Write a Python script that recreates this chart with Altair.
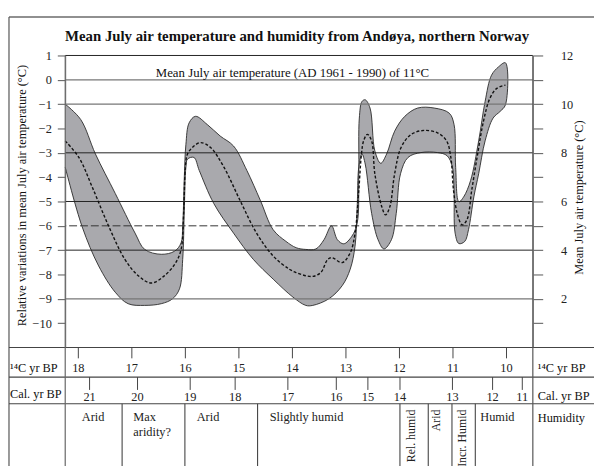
import altair as alt
import pandas as pd

FONT = "Liberation Serif"

# ---- data (x: 14C kyr BP, y: relative variation in mean July temperature, degC)
upper_x = [18.245, 17.956, 17.68, 17.31, 16.94, 16.76, 16.45, 16.2, 16.08, 16.05, 16.02, 15.99,
           15.93, 15.81, 15.59, 15.35, 15.1, 14.85, 14.6, 14.36, 14.12, 13.93, 13.75, 13.56,
           13.41, 13.27, 13.16, 13.04, 12.89, 12.79, 12.76, 12.75, 12.70, 12.64, 12.55, 12.46,
           12.35, 12.24, 12.09, 11.9, 11.66, 11.35, 11.07, 10.98, 10.95, 10.89, 10.80, 10.67,
           10.52, 10.40, 10.28, 10.15, 10.02]
upper_y = [-1.0, -1.63, -3.05, -4.67, -6.3, -6.97, -7.17, -7.04, -6.7, -6.03, -4.0, -2.65,
           -1.77, -1.5, -1.84, -2.31, -2.72, -3.73, -4.95, -6.16, -6.64, -6.9, -6.97, -6.95,
           -6.57, -6.0, -6.57, -6.74, -6.43, -5.89, -3.86, -1.57, -0.89, -0.82, -1.16, -2.92,
           -3.43, -3.05, -2.11, -1.5, -1.16, -1.16, -1.37, -1.84, -3.6, -5.01, -4.81, -4.13,
           -2.51, -0.89, 0.19, 0.53, 0.7]

lower_x = [18.245, 17.93, 17.62, 17.31, 17.07, 16.76, 16.45, 16.24, 16.11, 16.05, 16.02, 15.99,
           15.96, 15.84, 15.74, 15.47, 15.1, 14.73, 14.36, 13.99, 13.75, 13.62, 13.32, 13.07,
           12.92, 12.83, 12.79, 12.76, 12.70, 12.64, 12.52, 12.40, 12.29, 12.15, 12.06, 11.98,
           11.84, 11.6, 11.29, 11.11, 11.01, 10.98, 10.96, 10.89, 10.78, 10.71, 10.61, 10.52,
           10.40, 10.25, 10.12, 10.02]
lower_y = [-3.59, -6.03, -7.65, -8.73, -9.2, -9.27, -9.2, -9.0, -8.59, -7.38, -5.35, -3.59,
           -3.26, -3.19, -3.73, -5.08, -6.3, -7.38, -8.19, -8.93, -9.27, -9.27, -9.0, -8.46,
           -7.78, -6.84, -5.22, -3.59, -3.05, -3.46, -5.49, -6.57, -6.95, -6.57, -5.49, -3.86,
           -3.19, -2.99, -2.99, -3.12, -3.59, -4.54, -6.3, -6.73, -6.64, -6.16, -4.81, -3.86,
           -2.51, -1.57, -1.3, -1.03]

mid_x = [18.245, 17.99, 17.74, 17.43, 17.13, 16.88, 16.64, 16.39, 16.18, 16.08, 16.03, 16.0,
         15.96, 15.84, 15.71, 15.53, 15.28, 14.98, 14.67, 14.36, 14.06, 13.93, 13.75, 13.62,
         13.47, 13.34, 13.26, 13.07, 12.92, 12.83, 12.76, 12.71, 12.67, 12.60, 12.52, 12.46,
         12.33, 12.26, 12.18, 12.09, 11.97, 11.78, 11.54, 11.29, 11.12, 11.04, 10.99, 10.92,
         10.83, 10.74, 10.65, 10.55, 10.43, 10.31, 10.18, 10.02]
mid_y = [-2.51, -3.19, -4.41, -6.03, -7.38, -8.05, -8.35, -8.05, -7.51, -6.97, -5.35, -3.59,
         -3.05, -2.72, -2.58, -2.78, -3.59, -4.95, -6.3, -7.24, -7.78, -7.92, -8.05, -8.08,
         -7.92, -7.38, -7.31, -7.51, -7.11, -6.3, -4.54, -3.05, -2.51, -2.24, -2.51, -3.86,
         -5.22, -5.55, -5.22, -3.86, -2.78, -2.24, -2.08, -2.18, -2.51, -3.19, -4.54, -5.49,
         -5.96, -5.76, -4.54, -3.19, -1.70, -0.76, -0.35, -0.22]

dark_lines = [1, -3, -5, -7]
gray_lines = [0, -1, -9]
dashed_lines = [-6]
left_ticks = list(range(-10, 2))
right_ticks = list(range(1, 13))
c14_ticks = [18, 17, 16, 15, 14, 13, 12, 11, 10]

cal_labels = ["21", "20", "19", "18", "17", "16", "15", "14", "13", "12", "11"]
cal_pos = [17.79, 16.894, 15.91, 15.07, 14.085, 13.18, 12.59, 11.99, 11.01, 10.26, 9.705]

hum_dividers = [17.182, 16.009, 14.651, 11.991, 11.462, 11.019, 10.583]
hum_labels = ["Arid", "Max\naridity?", "Arid", "Slightly humid", "Humid"]
hum_pos = [17.935, 16.973, 15.788, 14.424, 10.49]
hum_vlabels = ["Rel. humid", "Arid", "Incr. Humid"]
hum_vpos = [11.781, 11.32, 10.835]

XDOM = [9.508, 18.245]
xs = alt.Scale(domain=XDOM, reverse=True, nice=False, zero=False)
ys = alt.Scale(domain=[-11, 1], nice=False, zero=False)

poly = pd.DataFrame({
    "x": upper_x + lower_x[::-1],
    "y": upper_y + lower_y[::-1],
    "i": list(range(len(upper_x) + len(lower_x))),
})
mid = pd.DataFrame({"x": mid_x, "y": mid_y, "i": list(range(len(mid_x)))})
one = pd.DataFrame({"a": [0]})

band = alt.Chart(poly).mark_line(
    fill="#a9a9ad", stroke="#2a2a2a", strokeWidth=0.9, interpolate="catmull-rom"
).encode(
    x=alt.X("x:Q", scale=xs, axis=None),
    y=alt.Y("y:Q", scale=ys, axis=None),
    order=alt.Order("i:Q"),
)

left_layer = alt.Chart(pd.DataFrame({"t": left_ticks})).mark_point(opacity=0).encode(
    y=alt.Y("t:Q", scale=ys, axis=alt.Axis(
        values=left_ticks, orient="left", title="", grid=False, tickSize=8,
        tickColor="#555", domainColor="#777", labelFont=FONT, labelFontSize=12.5,
        labelColor="#222", labelPadding=6)),
)
right_layer = alt.Chart(pd.DataFrame({"r": [0, 12]})).mark_point(opacity=0).encode(
    y=alt.Y("r:Q", scale=alt.Scale(domain=[0, 12], nice=False, zero=False),
            axis=alt.Axis(orient="right", values=right_ticks, title="", grid=False,
                          tickSize=10, tickColor="#555", domainColor="#777",
                          labelFont=FONT, labelFontSize=12.5, labelColor="#222",
                          labelPadding=18,
                          labelExpr="datum.value % 2 == 0 ? datum.label : ''")),
)

def yrules(vals, color, width, dash=None):
    kw = dict(color=color, strokeWidth=width)
    if dash:
        kw["strokeDash"] = dash
    return alt.Chart(pd.DataFrame({"y": vals})).mark_rule(**kw).encode(
        y=alt.Y("y:Q", scale=ys, axis=None))

grid_dark = yrules(dark_lines, "#222", 1.0)
grid_gray = yrules(gray_lines, "#777", 1.3)
grid_dash = yrules(dashed_lines, "#333", 1.0, [8, 3])

midline = alt.Chart(mid).mark_line(
    color="#111", strokeWidth=1.4, strokeDash=[3, 2], interpolate="catmull-rom"
).encode(
    x=alt.X("x:Q", scale=xs, axis=None),
    y=alt.Y("y:Q", scale=ys, axis=None),
    order=alt.Order("i:Q"),
)

def txt(text, x, y, size=12.5, align="left", angle=0, weight="normal"):
    return alt.Chart(one).mark_text(
        text=text, align=align, baseline="middle", font=FONT, fontSize=size,
        angle=angle, fontWeight=weight, color="#111"
    ).encode(x=alt.value(x), y=alt.value(y))

def seg(x1, x2, y1, y2, color="#333", w=1.0):
    return alt.Chart(one).mark_rule(color=color, strokeWidth=w).encode(
        x=alt.value(x1), x2=alt.value(x2), y=alt.value(y1), y2=alt.value(y2))

annot = alt.Chart(pd.DataFrame({"x": [14.0], "y": [0]})).mark_text(
    text="Mean July air temperature (AD 1961 - 1990) of 11°C", align="center",
    baseline="alphabetic", dy=-3, font=FONT, fontSize=13, color="#111"
).encode(x=alt.X("x:Q", scale=xs, axis=None), y=alt.Y("y:Q", scale=ys, axis=None))

frame = [
    seg(-57, 540, -39, -39, "#222", 1.2),
    seg(-57, -57, -39, 430, "#555", 1.2),
    seg(-57, 540, 296, 296, "#444", 1.2),
    seg(-57, 540, 326, 326, "#444", 1.2),
    seg(-57, 540, 353, 353, "#444", 1.2),
    seg(0, 0, 0, 430, "#666", 1.2),
    seg(474, 474, 0, 430, "#555", 1.2),
]

c14_df = pd.DataFrame({"x": c14_ticks, "lab": [str(v) for v in c14_ticks]})
c14_tick_marks = alt.Chart(c14_df).mark_rule(color="#444", strokeWidth=1).encode(
    x=alt.X("x:Q", scale=xs, axis=None), y=alt.value(296), y2=alt.value(307))
c14_text = alt.Chart(c14_df).mark_text(
    font=FONT, fontSize=12.5, color="#222", baseline="middle", align="center"
).encode(x=alt.X("x:Q", scale=xs, axis=None), y=alt.value(317), text="lab:N")

cal_df = pd.DataFrame({"x": cal_pos, "lab": cal_labels})
cal_ticks = alt.Chart(cal_df).mark_rule(color="#444", strokeWidth=1).encode(
    x=alt.X("x:Q", scale=xs, axis=None), y=alt.value(326), y2=alt.value(339))
cal_text = alt.Chart(cal_df).mark_text(
    font=FONT, fontSize=12.5, color="#222", baseline="middle", align="center"
).encode(x=alt.X("x:Q", scale=xs, axis=None), y=alt.value(346), text="lab:N")

div_df = pd.DataFrame({"x": hum_dividers})
hum_div = alt.Chart(div_df).mark_rule(color="#444", strokeWidth=1.1).encode(
    x=alt.X("x:Q", scale=xs, axis=None), y=alt.value(353), y2=alt.value(430))

hum_df = pd.DataFrame({"x": hum_pos, "lab": hum_labels})
hum_text = alt.Chart(hum_df).mark_text(
    font=FONT, fontSize=12.5, color="#222", baseline="top", align="left",
    lineBreak="\n", lineHeight=15
).encode(x=alt.X("x:Q", scale=xs, axis=None), y=alt.value(361), text="lab:N")

humv_df = pd.DataFrame({"x": hum_vpos, "lab": hum_vlabels})
humv_text = alt.Chart(humv_df).mark_text(
    font=FONT, fontSize=12, color="#222", baseline="middle", align="right", angle=270
).encode(x=alt.X("x:Q", scale=xs, axis=None), y=alt.value(359), text="lab:N")

texts = [
    txt("Mean July air temperature and humidity from Andøya, northern Norway", 235, -20,
        size=15, align="center", weight="bold"),
    txt("Relative variations in mean July air temperature (°C)", -44, 142, size=12.5,
        align="center", angle=270),
    txt("Mean July air temperature (°C)", 521, 144, size=12.5, align="center", angle=270),
    txt("¹⁴C yr BP", -56, 317),
    txt("Cal. yr BP", -56, 343),
    txt("¹⁴C yr BP", 479, 317),
    txt("Cal. yr BP", 479, 345),
    txt("Humidity", 479, 368),
]

chart = alt.layer(
    band, grid_gray, grid_dark, grid_dash, midline, annot,
    *frame, c14_tick_marks, c14_text, cal_ticks, cal_text, hum_div, hum_text, humv_text,
    *texts, left_layer, right_layer,
).resolve_scale(y="independent").properties(
    width=474, height=296,
    autosize=alt.AutoSizeParams(type="none"),
    padding={"left": 58, "top": 45, "right": 62, "bottom": 117},
    background="white",
).configure_view(stroke=None)

chart.save("out.html", embed_options={"renderer": "svg", "actions": False})
